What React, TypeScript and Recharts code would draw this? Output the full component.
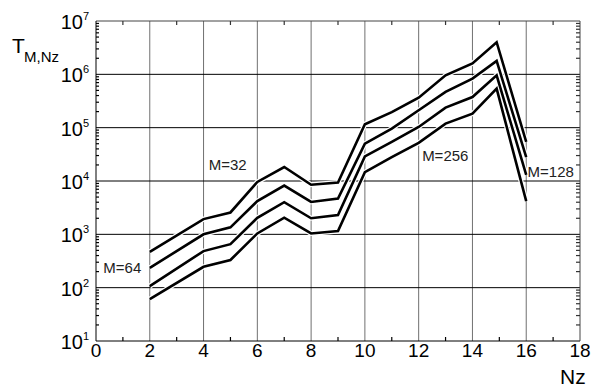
import React from 'react';
import { LineChart, Line, XAxis, YAxis, CartesianGrid, ReferenceDot } from 'recharts';

// Nz positions of the measured points
const nz = [2, 4, 5, 6, 7, 8, 9, 10, 11, 12, 13, 14, 14.9, 16];

// T(M, Nz), one array per curve, top to bottom
const m32 = [470, 1930, 2570, 9600, 18300, 8500, 9400, 116000, 196000, 365000, 960000, 1600000, 4000000, 54000];
const m64 = [235, 1000, 1350, 4200, 8200, 4050, 4700, 50000, 96000, 212000, 470000, 830000, 1780000, 28000];
const m128 = [107, 485, 655, 2040, 4000, 2000, 2300, 29000, 54000, 103000, 238000, 375000, 960000, 13000];
const m256 = [61, 246, 330, 1040, 2050, 1040, 1150, 14600, 28000, 52000, 119000, 183000, 540000, 4200];

const seriesKeys = ['m32', 'm64', 'm128', 'm256'];

// curve labels and where they sit (Nz, T)
const curveLabels = ['M=32', 'M=64', 'M=256', 'M=128'];
const labelNz = [4.9, 0.98, 12.99, 16.91];
const labelT = [20000, 238, 29000, 14600];

const xTicks = [0, 1, 2, 3, 4, 5, 6, 7, 8, 9, 10, 11, 12, 13, 14, 15, 16, 17, 18];
const xGrid = [2, 4, 6, 8, 10, 12, 14, 16];
const yMajor = [10, 100, 1000, 10000, 100000, 1000000, 10000000];
const yGrid = [100, 1000, 10000, 100000, 1000000];
const yMinor = yMajor.slice(0, -1).flatMap((d) => [2, 3, 4, 5, 6, 7, 8, 9].map((m) => m * d));

const data = nz.map((x, i) => ({ nz: x, m32: m32[i], m64: m64[i], m128: m128[i], m256: m256[i] }));

const FONT = "'Liberation Sans', Arial, Helvetica, sans-serif";

const BottomTick = (props: any) => {
    const { x, y, payload } = props;
    const v = payload.value;
    if (v % 2 === 1) return <path d={`M${x},${y}v-4`} stroke="#000" strokeWidth={1.2} fill="none" />;
    return (
        <text x={x} y={y + 16} textAnchor="middle" fontSize={19} fontFamily={FONT} fill="#000">
            {v}
        </text>
    );
};

const TopTick = (props: any) => {
    const { x, y, payload } = props;
    if (payload.value % 2 !== 1) return <g />;
    return <path d={`M${x},${y}v4`} stroke="#333" strokeWidth={1.2} fill="none" />;
};

const LeftTick = (props: any) => {
    const { x, y, payload } = props;
    const v = payload.value;
    if (yMajor.includes(v)) {
        const exp = Math.round(Math.log10(v));
        return (
            <text x={x - 7} y={y + 8} textAnchor="end" fontFamily={FONT} fill="#000">
                <tspan fontSize={20}>10</tspan>
                <tspan fontSize={11} dy={-9}>{exp}</tspan>
            </text>
        );
    }
    return <path d={`M${x},${y}h3`} stroke="#000" strokeWidth={1.2} fill="none" />;
};

const RightTick = (props: any) => {
    const { x, y, payload } = props;
    if (yMajor.includes(payload.value)) return <g />;
    return <path d={`M${x},${y}h-4`} stroke="#333" strokeWidth={1.2} fill="none" />;
};

const CurveLabel = (text: string) => (props: any) => {
    const vb = props.viewBox;
    return (
        <text x={vb.x + vb.width / 2} y={vb.y + vb.height / 2 + 5} textAnchor="middle" fontSize={15} fontFamily={FONT} fill="#222">
            {text}
        </text>
    );
};

export default function App() {
    return (
        <div style={{ position: 'absolute', left: 0, top: 0, width: 595, height: 389, background: '#fff' }}>
            <LineChart width={595} height={389} data={data} margin={{ top: 0, right: 0, bottom: 0, left: 0 }}>
                <CartesianGrid horizontal={false} verticalValues={xGrid} stroke="#707070" />
                <CartesianGrid vertical={false} horizontalValues={yGrid} stroke="#000" />
                <XAxis
                    dataKey="nz"
                    type="number"
                    domain={[0, 18]}
                    ticks={xTicks}
                    interval={0}
                    height={48}
                    tickSize={0}
                    tickMargin={0}
                    tickLine={false}
                    axisLine={{ stroke: '#000' }}
                    tick={(p: any) => <BottomTick {...p} />}
                    allowDataOverflow
                />
                <XAxis
                    xAxisId="top"
                    orientation="top"
                    dataKey="nz"
                    type="number"
                    domain={[0, 18]}
                    ticks={xTicks}
                    interval={0}
                    height={21}
                    tickSize={0}
                    tickMargin={0}
                    tickLine={false}
                    axisLine={{ stroke: '#444' }}
                    tick={(p: any) => <TopTick {...p} />}
                    allowDataOverflow
                />
                <YAxis
                    type="number"
                    scale="log"
                    domain={[10, 10000000]}
                    ticks={[...yMajor, ...yMinor]}
                    interval={0}
                    width={96}
                    tickSize={0}
                    tickMargin={0}
                    tickLine={false}
                    axisLine={{ stroke: '#000' }}
                    tick={(p: any) => <LeftTick {...p} />}
                    allowDataOverflow
                />
                <YAxis
                    yAxisId="right"
                    orientation="right"
                    type="number"
                    scale="log"
                    domain={[10, 10000000]}
                    ticks={[...yMajor, ...yMinor]}
                    interval={0}
                    width={15}
                    tickSize={0}
                    tickMargin={0}
                    tickLine={false}
                    axisLine={{ stroke: '#444' }}
                    tick={(p: any) => <RightTick {...p} />}
                    allowDataOverflow
                />
                {seriesKeys.map((k) => (
                    <Line key={`halo-${k}`} dataKey={k} type="linear" stroke="#fff" strokeWidth={5} dot={false} activeDot={false} isAnimationActive={false} />
                ))}
                {seriesKeys.map((k) => (
                    <Line key={k} dataKey={k} type="linear" stroke="#000" strokeWidth={2.6} dot={false} activeDot={false} isAnimationActive={false} />
                ))}
                {curveLabels.map((t, i) => (
                    <ReferenceDot key={t} x={labelNz[i]} y={labelT[i]} r={0} fill="none" stroke="none" label={CurveLabel(t)} />
                ))}
            </LineChart>
            <svg width={595} height={389} style={{ position: 'absolute', left: 0, top: 0, pointerEvents: 'none' }}>
                <text x={12} y={53} fontSize={21} fontFamily={FONT} fill="#000">T</text>
                <text x={24} y={62} fontSize={15} fontFamily={FONT} fill="#000">M,Nz</text>
                <text x={560} y={384} fontSize={21} fontFamily={FONT} fill="#000">Nz</text>
            </svg>
        </div>
    );
}
